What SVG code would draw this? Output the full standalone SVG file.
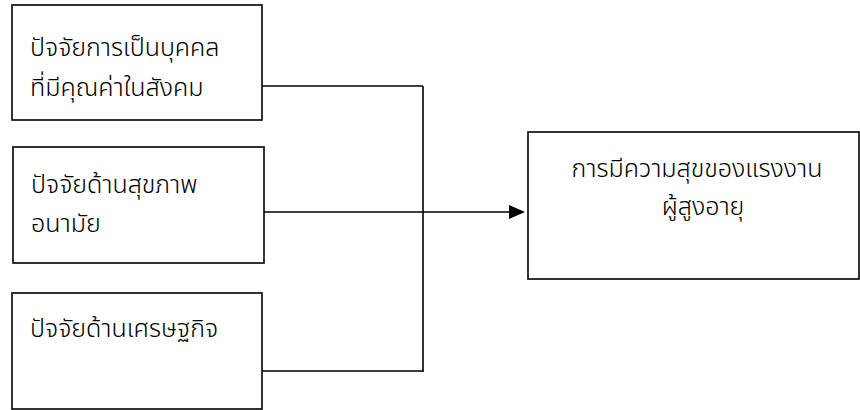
<svg xmlns="http://www.w3.org/2000/svg" width="860" height="410" viewBox="0 0 860 410">
<defs>
<style>
.box{fill:#fff;stroke:#000;stroke-width:1.6}
.ln{fill:none;stroke:#000;stroke-width:1.6}
text{font-family:"Noto Sans Thai","Noto Sans","DejaVu Sans",sans-serif;font-size:25px;font-weight:300;fill:#000}
</style>
</defs>
<rect width="860" height="410" fill="#fff"/>
<g id="connectors">
<path class="ln" d="M262,86 H423 M262,371 H423 M423,86 V372"/>
<path class="ln" d="M264,212 H509"/>
<path d="M509,205 L525,212 L509,219 z" fill="#000"/>
</g>
<g id="n1"><rect class="box" x="12" y="5" width="250" height="115"/>
<text x="30" y="56">ปัจจัยการเป็นบุคคล</text><text x="30" y="96">ที่มีคุณค่าในสังคม</text></g>
<g id="n2"><rect class="box" x="13" y="147" width="251" height="116"/>
<text x="31" y="193">ปัจจัยด้านสุขภาพ</text><text x="31" y="232">อนามัย</text></g>
<g id="n3"><rect class="box" x="12" y="293" width="250" height="116"/>
<text x="30" y="337">ปัจจัยด้านเศรษฐกิจ</text></g>
<g id="n4"><rect class="box" x="528" y="132" width="331" height="147"/>
<text x="697" y="177" text-anchor="middle">การมีความสุขของแรงงาน</text><text x="703" y="215" text-anchor="middle">ผู้สูงอายุ</text></g>
</svg>
